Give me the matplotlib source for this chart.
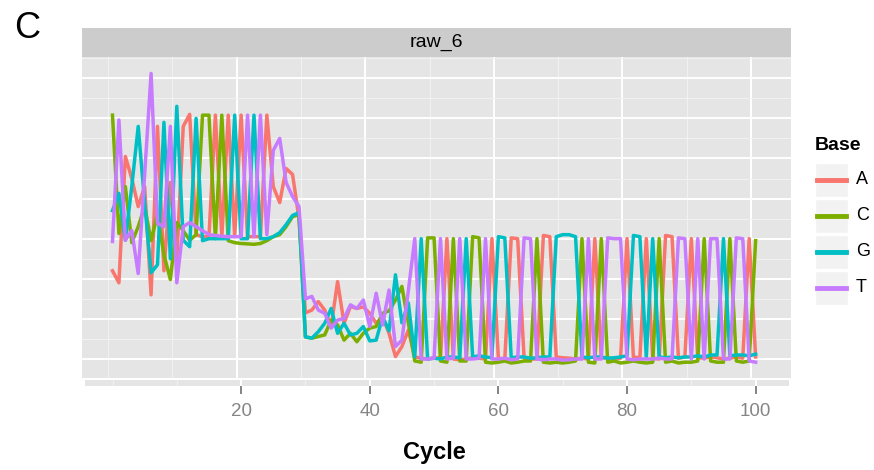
import matplotlib
matplotlib.use('Agg')
import matplotlib.pyplot as plt
from matplotlib.patches import Rectangle

plt.rcParams['font.family'] = ['Liberation Sans', 'DejaVu Sans']

# data
bases = ['A', 'C', 'G', 'T']
colors = ['#F8766D', '#7CAE00', '#00BFC4', '#C77CFF']
cycles = list(range(0, 101))

sig_A = [2.2, 1.9, 5.05, 4.5, 3.8, 4.3, 1.6, 5.8, 2.2, 4.4, 2.5, 5.8,
         6.1, 3.1, 3.05, 3.05, 6.08, 3.05, 6.08, 3.05, 6.08, 3.05, 3.05, 3.05, 6.08,
         4.3, 3.9, 4.75, 4.6, 3.5, 1.15,
         1.22, 1.43, 1.22, 0.81, 1.93, 0.89, 1.31, 1.26, 1.3, 1.14, 0.89, 1.05, 0.64, 0.06, 0.31, 0.72,
         0.05, 0.02, 0.0, 0.03, 0.02, 3.0, 0.0, -0.02, 0.0, 0.03,
         0.02, 0.0, 3.0, 0.02, 0.0, 3.02, 3.0, 0.02, 0.0, 0.0,
         3.08, 3.05, 0.05, 0.03, 0.02, 0.0, 0.02, 0.0, 3.0, 0.02,
         0.03, 0.0, 0.02, 3.0, 0.05, 0.03, 3.0, 0.02, 0.0, 3.08,
         3.05, 0.02, 0.05, 3.0, 0.03, 0.02, 0.05, 0.03, 0.0, 0.02,
         0.05, 0.02, 3.0, 0.05]

sig_C = [6.08, 3.13, 4.3, 2.9, 3.3, 3.8, 2.95, 3.6, 2.6, 1.98, 3.4, 3.2,
         2.96, 3.1, 6.08, 6.08, 3.0, 6.08, 2.95, 2.9, 2.88, 2.87, 2.86, 2.88, 2.95,
         3.05, 3.1, 3.3, 3.55, 3.6, 0.55,
         0.52, 0.56, 0.6, 0.97, 0.85, 0.47, 0.64, 0.43, 0.64, 0.77, 0.81, 1.14, 1.2, 1.47, 1.81, 0.9,
         -0.05, -0.08, 3.02, 3.02, -0.05, -0.08, 3.0, -0.05, -0.05, 3.05,
         3.02, -0.08, -0.1, -0.08, -0.05, -0.1, -0.08, -0.05, -0.05, 3.0,
         -0.08, -0.1, -0.08, -0.1, -0.08, -0.05, 3.0, -0.08, -0.1, 3.0,
         -0.08, -0.05, -0.1, -0.08, -0.05, -0.08, -0.1, -0.08, 3.0, -0.08,
         -0.05, -0.1, -0.08, -0.08, -0.05, 3.0, -0.05, -0.08, -0.08, 3.0,
         -0.05, -0.08, -0.05, 2.95]

sig_G = [3.7, 4.13, 2.96, 4.3, 5.8, 3.9, 2.15, 2.35, 5.9, 2.5, 6.3, 2.96,
         2.8, 6.0, 2.95, 3.0, 3.0, 3.0, 3.0, 6.08, 3.0, 3.0, 6.08, 3.0, 3.0,
         3.05, 3.15, 3.35, 3.58, 3.65, 0.55,
         0.52, 0.68, 0.89, 1.26, 0.64, 0.89, 0.6, 0.64, 0.81, 0.45, 0.47, 1.05, 0.7, 2.1, 0.9, 1.4,
         0.05, 3.0, 0.0, 0.02, 0.0, 0.05, 0.05, 0.03, 3.0, 0.05,
         0.08, 0.05, 0.03, 3.05, 3.02, 0.03, 0.05, 0.05, 0.02, 0.03,
         0.05, 0.05, 3.05, 3.1, 3.1, 3.05, 0.05, 0.03, 0.05, 0.05,
         0.02, 0.03, 0.05, 0.08, 3.08, 3.05, 0.05, 3.0, 0.05, 0.03,
         0.05, 0.03, 0.05, 0.05, 0.08, 0.05, 0.1, 0.1, 3.0, 0.08,
         0.1, 0.1, 0.08, 0.12]

sig_T = [2.93, 5.96, 2.96, 3.2, 2.13, 4.6, 7.12, 3.38, 3.3, 5.8, 1.9, 3.3,
         3.4, 3.3, 3.2, 3.1, 3.08, 3.06, 3.05, 3.05, 3.05, 6.08, 3.05, 6.08, 3.1,
         5.2, 5.5, 4.4, 4.05, 3.8, 1.5,
         1.56, 1.22, 1.14, 0.77, 0.97, 1.01, 1.35, 1.26, 1.47, 0.81, 1.64, 0.85, 1.72, 0.31, 0.47, 1.7,
         3.0, 0.0, 0.0, 0.02, 3.0, 0.0, 0.02, 3.0, 0.0, 0.0,
         0.02, 3.0, 0.0, 0.0, 0.02, -0.02, 0.0, 3.02, 3.0, 0.0,
         -0.02, 0.0, 0.0, -0.03, -0.02, 0.0, 0.0, 3.0, 0.0, 0.0,
         3.02, 3.0, 3.0, 0.0, -0.02, 0.0, 0.0, 0.0, 0.02, 0.0,
         0.0, 3.02, 3.0, 0.0, 3.0, 0.0, 3.0, 3.0, 0.0, 0.0,
         3.02, 3.0, -0.05, -0.08]

signals = [sig_A, sig_C, sig_G, sig_T]
x_ticks = [20, 40, 60, 80, 100]

W, H = 874, 470
panel_bg = '#E5E5E5'


def box(l, t, r, b):
    return [l / W, 1 - b / H, (r - l) / W, (b - t) / H]


fig = plt.figure(figsize=(W / 100, H / 100), dpi=100)

# main panel
ax = fig.add_axes(box(82, 57, 791, 378))
ax.set_facecolor(panel_bg)
for vals, col in zip(signals, colors):
    ax.plot(cycles, vals, color=col, lw=2.5, zorder=3)
ax.set_xlim(-4.74, 105.5)
ax.set_ylim(-0.474, 7.53)
# panel grid sits slightly left of the tick marks in the original
shift = 0.7
ax.set_xticks([v - shift for v in x_ticks])
ax.set_xticks([v - shift for v in [0, 10, 30, 50, 70, 90]], minor=True)
ax.set_yticks(range(0, 8))
ax.set_yticks([v + 0.5 for v in range(0, 8)], minor=True)
ax.grid(which='major', color='white', lw=1.4)
ax.grid(which='minor', color='#F2F2F2', lw=0.7)
ax.set_axisbelow(True)
ax.tick_params(which='both', length=0, labelbottom=False, labelleft=False)
for s in ax.spines.values():
    s.set_visible(False)

# facet strip
sax = fig.add_axes(box(82, 28, 791, 57))
sax.set_facecolor('#CCCCCC')
sax.set_xticks([])
sax.set_yticks([])
for s in sax.spines.values():
    s.set_visible(False)
sax.text(0.5, 0.5, 'raw_6', ha='center', va='center', fontsize=14, transform=sax.transAxes)

# thin axis band under the panel
bax = fig.add_axes(box(85, 380, 789, 386))
bax.set_facecolor(panel_bg)
bax.set_xlim(-4.28, 105.2)
bax.set_ylim(0, 1)
bax.set_xticks(x_ticks)
bax.set_xticklabels([str(v) for v in x_ticks])
bax.set_xticks([0, 10, 30, 50, 70, 90], minor=True)
bax.grid(which='major', axis='x', color='white', lw=1.4)
bax.grid(which='minor', axis='x', color='#F2F2F2', lw=0.7)
bax.set_yticks([])
bax.tick_params(axis='x', which='major', length=6, width=1.2, color='#6E6E6E',
                labelsize=13.5, labelcolor='#858585', pad=6)
bax.tick_params(axis='x', which='minor', length=0)
for s in bax.spines.values():
    s.set_visible(False)

fig.text(434 / W, 1 - 452 / H, 'Cycle', ha='center', va='center', fontsize=17, fontweight='bold')
fig.text(14 / W, 1 - 28 / H, 'C', ha='left', va='center', fontsize=26)

# legend drawn by hand to get the grey key boxes
lax = fig.add_axes([0, 0, 1, 1])
lax.set_xlim(0, W)
lax.set_ylim(H, 0)
lax.axis('off')
lax.text(815, 146, 'Base', ha='left', va='center', fontsize=14, fontweight='bold')
for i, (b, col) in enumerate(zip(bases, colors)):
    top = 163 + 36 * i
    lax.add_patch(Rectangle((815, top), 33, 34, facecolor='#F2F2F2', edgecolor='white', lw=1))
    lax.plot([817, 846], [top + 17, top + 17], color=col, lw=3.5)
    lax.text(856, top + 17, b, ha='left', va='center', fontsize=13)

fig.savefig('out.png', dpi=100)
